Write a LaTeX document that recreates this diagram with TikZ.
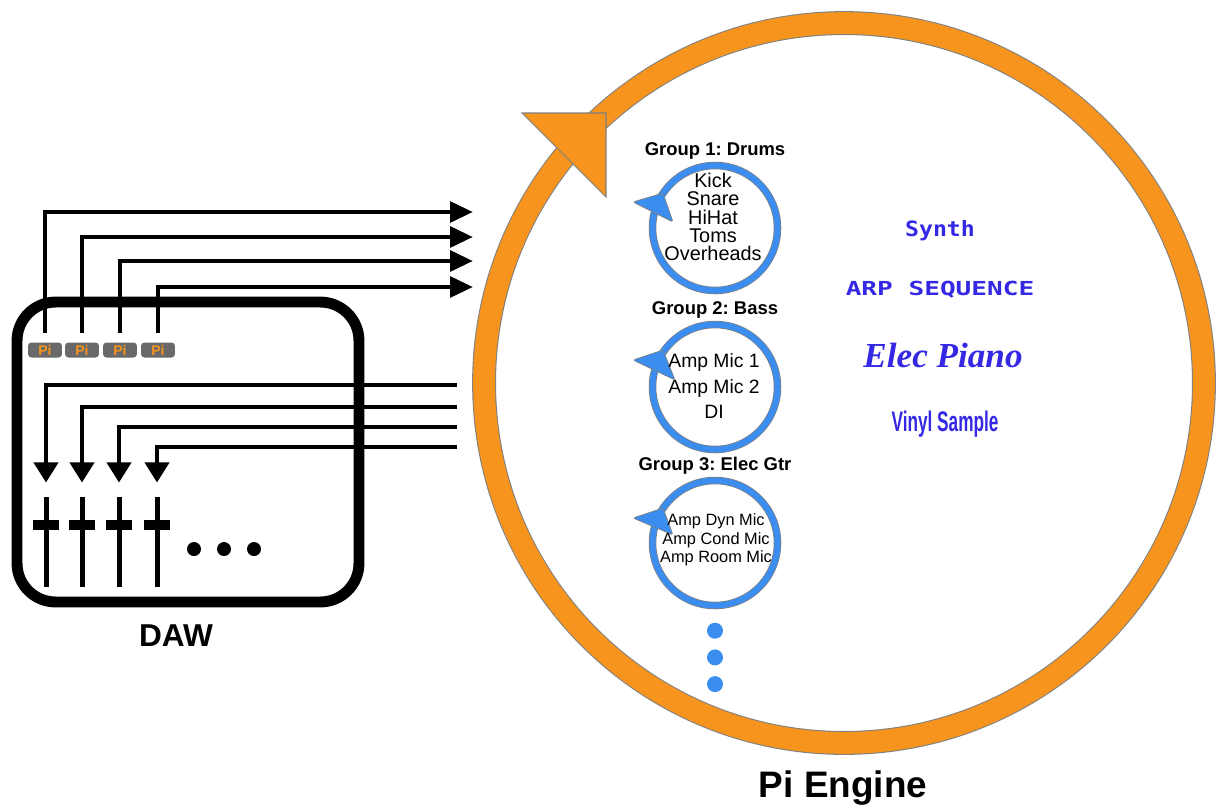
\documentclass[tikz,border=0pt]{standalone}
\usepackage{fontspec}
\setmainfont{Liberation Sans}
\newfontfamily\techfont{DejaVu Sans Mono}
\newfontfamily\pianofont{Liberation Serif}
\usetikzlibrary{arrows.meta, positioning, shapes.geometric}
\frenchspacing

\definecolor{engineorange}{RGB}{247,148,30}
\definecolor{groupblue}{RGB}{59,142,240}
\definecolor{fancyblue}{RGB}{52,40,228}
\definecolor{badgegray}{RGB}{105,105,105}

\begin{document}
\begin{tikzpicture}[
    x=0.02cm, y=-0.02cm,
    wire/.style={line width=2.8pt},
    outwire/.style={wire, -{Triangle[length=13pt, width=11.5pt]}},
    inwire/.style={wire, -{Triangle[length=11.5pt, width=13.5pt]}},
    daw/.style={rectangle, draw, line width=6.2pt, rounded corners=22pt, minimum width=6.84cm, minimum height=6cm},
    pibadge/.style={rectangle, rounded corners=2pt, fill=badgegray, text=engineorange, font=\bfseries\fontsize{8}{8}\selectfont, minimum width=0.68cm, minimum height=0.3cm, inner sep=0pt},
    fader/.style={rectangle, fill=black, minimum width=0.1cm, minimum height=1.8cm, inner sep=0pt},
    knob/.style={rectangle, fill=black, minimum width=0.54cm, minimum height=0.2cm, inner sep=0pt},
    dot/.style={circle, fill=black, minimum size=0.28cm, inner sep=0pt},
    engine/.style={circle, draw=gray, line width=0.6pt, double=engineorange, double distance=12.4pt, minimum size=14.4cm, inner sep=0pt},
    enginetip/.style={fill=engineorange, draw=gray, line width=0.6pt},
    group/.style={circle, draw=gray, line width=0.45pt, double=groupblue, double distance=3.4pt, minimum size=2.5cm, inner sep=0pt},
    grouptip/.style={fill=groupblue, draw=gray, line width=0.4pt, rounded corners=1pt},
    grouptitle/.style={font=\bfseries\fontsize{10.5}{12}\selectfont},
    more/.style={circle, fill=groupblue, minimum size=0.32cm, inner sep=0pt},
    caption/.style={font=\bfseries\fontsize{18}{20}\selectfont},
    fancy/.style={text=fancyblue}
]
\useasboundingbox (0,0) rectangle (1216,809);

% DAW
\node[daw] (daw) at (188,452) {};
\node[caption] (dawname) at (176,636) {DAW};

\node[pibadge] (pi1) at (45,350) {Pi};
\node[pibadge] (pi2) at (82,350) {Pi};
\node[pibadge] (pi3) at (120,350) {Pi};
\node[pibadge] (pi4) at (158,350) {Pi};

\node[fader] (fad1) at (46,542) {};
\node[fader] (fad2) at (82,542) {};
\node[fader] (fad3) at (119,542) {};
\node[fader] (fad4) at (157,542) {};
\node[knob] (knob1) at (46,525) {};
\node[knob] (knob2) at (82,525) {};
\node[knob] (knob3) at (119,525) {};
\node[knob] (knob4) at (157,525) {};

\node[dot] (dot1) at (194,549) {};
\node[dot] (dot2) at (224,549) {};
\node[dot] (dot3) at (254,549) {};

% sends and returns
\coordinate (out1) at (473,212);
\coordinate (out2) at (473,237);
\coordinate (out3) at (473,261);
\coordinate (out4) at (473,287);
\coordinate (in1) at (457,385);
\coordinate (in2) at (457,407);
\coordinate (in3) at (457,427);
\coordinate (in4) at (457,447);

\draw[outwire] ([yshift=5pt]pi1.north) |- (out1);
\draw[outwire] ([yshift=5pt]pi2.north) |- (out2);
\draw[outwire] ([yshift=5pt]pi3.north) |- (out3);
\draw[outwire] ([yshift=5pt]pi4.north) |- (out4);

\draw[inwire] (in1) -| ([yshift=8pt]fad1.north);
\draw[inwire] (in2) -| ([yshift=8pt]fad2.north);
\draw[inwire] (in3) -| ([yshift=8pt]fad3.north);
\draw[inwire] (in4) -| ([yshift=8pt]fad4.north);

% Pi engine loop
\node[engine] (engine) at (844,383) {};
\draw[enginetip] (engine.center) ++(-322,-270) -- ++(84,0) -- ++(0,84) -- cycle;
\node[font=\bfseries\fontsize{21}{24}\selectfont] (enginename) at (843,788) {Pi Engine};

% groups
\node[group] (g1) at (715,228) {};
\node[group] (g2) at (715,387) {};
\node[group] (g3) at (715,543) {};
\draw[grouptip] (g1.center) ++(-82,-26) -- ++(30,-9) -- ++(10,29) -- cycle;
\draw[grouptip] (g2.center) ++(-82,-27) -- ++(30,-10) -- ++(12,30) -- cycle;
\draw[grouptip] (g3.center) ++(-82,-25) -- ++(30,-10) -- ++(10,27) -- cycle;

\node[grouptitle, above=0pt of g1] (t1) {Group 1: Drums};
\node[grouptitle, above=0pt of g2] (t2) {Group 2: Bass};
\node[grouptitle, above=0pt of g3] (t3) {Group 3: Elec Gtr};

\node[align=center, font=\fontsize{11.3}{10.4}\selectfont] (drums) at (713,217) {Kick\\Snare\\HiHat\\Toms\\Overheads};
\node[align=center, font=\fontsize{11}{14.7}\selectfont] (bass) at (714,386) {Amp Mic 1\\Amp Mic 2\\DI};
\node[align=center, font=\fontsize{9.3}{10.5}\selectfont] (gtr) at (716,540) {Amp Dyn Mic\\Amp Cond Mic\\Amp Room Mic};

\node[more, below=0.33cm of g3] (more1) {};
\node[more, below=0.2cm of more1] (more2) {};
\node[more, below=0.2cm of more2] (more3) {};

% single sources
\node[fancy, font=\techfont\bfseries\fontsize{12}{12}\selectfont, xscale=1.1] (synth) at (940,231) {Synth};
\node[fancy, font=\techfont\bfseries\fontsize{11}{11}\selectfont, xscale=1.35] (arp) at (940,290) {ARP SEQUENCE};
\node[fancy, font=\pianofont\bfseries\itshape\fontsize{20}{22}\selectfont] (piano) at (943,355) {Elec Piano};
\node[fancy, font=\bfseries\fontsize{14}{16}\selectfont, xscale=0.7, yscale=1.15] (vinyl) at (945,424) {Vinyl Sample};

\end{tikzpicture}
\end{document}
